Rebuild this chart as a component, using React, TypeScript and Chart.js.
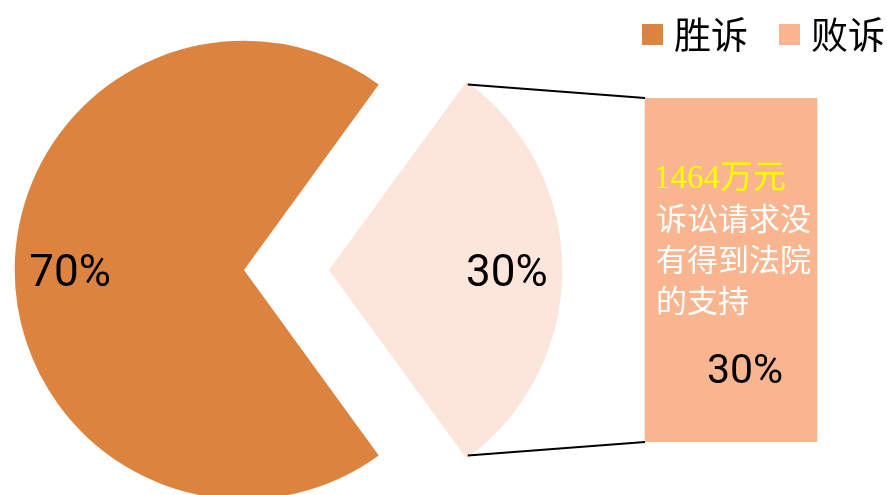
import { useEffect, useRef } from 'react';
import { Chart, registerables } from 'chart.js';

Chart.register(...registerables);

// ---- data ----
const categories = ['胜诉', '败诉'];
const pieValues = [70, 30];
const barLabels = ['败诉'];
const barValues = [30];
const boxTitle = '1464万元';
const boxLines = ['诉讼请求没', '有得到法院', '的支持'];

// ---- styles ----
const PIE_COLOR = '#DC843F';
const SLICE_COLOR = '#FCE5DA';
const BAR_COLOR = '#F8B58F';
const legendColors = [PIE_COLOR, BAR_COLOR];
const sliceColors = [PIE_COLOR, SLICE_COLOR];
const sliceOffsets = [0, 339.4];

const PIE_LEFT = -155;
const PIE_TOP = -129;
const PIE_SIZE = 798;

// same translation Chart.js applies to an offset arc when drawing it
function sliceShift(el: any): number {
  const off = (el.options.offset || 0) / 4;
  const circ = el.endAngle - el.startAngle;
  const fix = 1 - Math.sin(Math.min(Math.PI, circ || 0));
  return off + off * fix;
}

export default function App() {
  const pieRef = useRef<HTMLCanvasElement>(null);
  const barRef = useRef<HTMLCanvasElement>(null);

  useEffect(() => {
    const pieLabels = {
      id: 'pieLabels',
      afterDatasetsDraw(chart: any) {
        const ctx = chart.ctx;
        const meta = chart.getDatasetMeta(0);
        meta.data.forEach((el: any, i: number) => {
          const p = el.getProps(['x', 'y', 'startAngle', 'endAngle', 'outerRadius'], true);
          const mid = (p.startAngle + p.endAngle) / 2;
          const d = sliceShift(el) + p.outerRadius * 0.758;
          const px = p.x + Math.cos(mid) * d;
          const py = p.y + Math.sin(mid) * d;
          ctx.save();
          ctx.font = '44px Roboto';
          ctx.fillStyle = '#000000';
          ctx.textAlign = 'center';
          ctx.textBaseline = 'alphabetic';
          ctx.fillText(`${pieValues[i]}%`, px, py + 15.5);
          ctx.restore();
        });
      },
    };

    const pie = new Chart(pieRef.current!, {
      type: 'pie',
      data: {
        labels: categories,
        datasets: [
          {
            data: pieValues,
            backgroundColor: sliceColors,
            borderWidth: 0,
            offset: sliceOffsets,
          } as any,
        ],
      },
      options: {
        responsive: true,
        maintainAspectRatio: false,
        animation: false,
        events: [],
        rotation: 144,
        layout: { padding: 0 },
        plugins: {
          legend: { display: false },
          tooltip: { enabled: false },
        },
      },
      plugins: [pieLabels],
    });

    const boxPlugin = {
      id: 'boxText',
      afterDatasetsDraw(chart: any) {
        const ctx = chart.ctx;
        const bar: any = chart.getDatasetMeta(0).data[0];
        const b = bar.getProps(['x', 'y', 'base', 'width'], true);
        const left = b.x - b.width / 2;
        const top = Math.min(b.y, b.base);
        const bottom = Math.max(b.y, b.base);

        // connector lines from the exploded slice to the bar
        const arc: any = pie.getDatasetMeta(0).data[1];
        if (arc) {
          const p = arc.getProps(['x', 'y', 'startAngle', 'endAngle', 'outerRadius'], true);
          const shift = sliceShift(arc);
          const mid = (p.startAngle + p.endAngle) / 2;
          const cx = p.x + Math.cos(mid) * shift + PIE_LEFT;
          const cy = p.y + Math.sin(mid) * shift + PIE_TOP;
          const t1x = cx + Math.cos(p.startAngle) * p.outerRadius;
          const t1y = cy + Math.sin(p.startAngle) * p.outerRadius;
          const t2x = cx + Math.cos(p.endAngle) * p.outerRadius;
          const t2y = cy + Math.sin(p.endAngle) * p.outerRadius;
          ctx.save();
          ctx.strokeStyle = '#000000';
          ctx.lineWidth = 2;
          ctx.beginPath();
          ctx.moveTo(t1x, t1y);
          ctx.lineTo(left, top);
          ctx.moveTo(t2x, t2y);
          ctx.lineTo(left, bottom);
          ctx.stroke();
          ctx.restore();
        }

        ctx.save();
        ctx.textAlign = 'left';
        ctx.textBaseline = 'alphabetic';
        ctx.fillStyle = '#FFFF00';
        ctx.font = "33px 'Liberation Serif', 'Noto Sans CJK SC'";
        ctx.fillText(boxTitle, left + 9, top + 90);
        ctx.fillStyle = '#FFFFFF';
        ctx.font = "31px 'Noto Sans CJK SC'";
        boxLines.forEach((line, i) => {
          ctx.fillText(line, left + 11, top + 132 + i * 41);
        });
        ctx.fillStyle = '#000000';
        ctx.font = '41px Roboto';
        ctx.textAlign = 'center';
        ctx.fillText(`${barValues[0]}%`, b.x + 14, top + 285);
        ctx.restore();
      },
    };

    const barTotal = barValues.reduce((a, v) => a + v, 0);

    const bar = new Chart(barRef.current!, {
      type: 'bar',
      data: {
        labels: barLabels,
        datasets: [
          {
            label: categories[1],
            data: barValues,
            backgroundColor: BAR_COLOR,
            borderWidth: 0,
            barThickness: 172,
          },
        ],
      },
      options: {
        responsive: true,
        maintainAspectRatio: false,
        animation: false,
        events: [],
        layout: { padding: { left: 575, right: -36.5, top: -22.5, bottom: 53 } },
        scales: {
          x: { display: false },
          y: { display: false, min: 0, max: barTotal },
        },
        plugins: {
          tooltip: { enabled: false },
          legend: {
            display: true,
            position: 'top',
            align: 'end',
            labels: {
              usePointStyle: true,
              boxWidth: 6,
              boxHeight: 21,
              padding: 38.5,
              color: '#000000',
              font: { size: 37, family: "'Noto Sans CJK SC', sans-serif" },
              generateLabels: () =>
                categories.map((t, i) => ({
                  text: t,
                  fillStyle: legendColors[i],
                  strokeStyle: legendColors[i],
                  lineWidth: 0,
                  pointStyle: 'rect',
                  hidden: false,
                  index: i,
                  datasetIndex: 0,
                  fontColor: '#000000',
                })) as any,
            },
          },
          title: {
            display: true,
            text: '',
            weight: 1,
            font: { size: 10 },
            padding: { top: 23, bottom: 0 },
          },
        },
      },
      plugins: [boxPlugin],
    });

    return () => {
      bar.destroy();
      pie.destroy();
    };
  }, []);

  return (
    <div
      style={{
        position: 'absolute',
        left: 0,
        top: 0,
        width: 887,
        height: 495,
        overflow: 'hidden',
        background: '#ffffff',
      }}
    >
      <div style={{ position: 'absolute', left: PIE_LEFT, top: PIE_TOP, width: PIE_SIZE, height: PIE_SIZE }}>
        <canvas ref={pieRef} />
      </div>
      <div style={{ position: 'absolute', left: 0, top: 0, width: 887, height: 495 }}>
        <canvas ref={barRef} />
      </div>
    </div>
  );
}
